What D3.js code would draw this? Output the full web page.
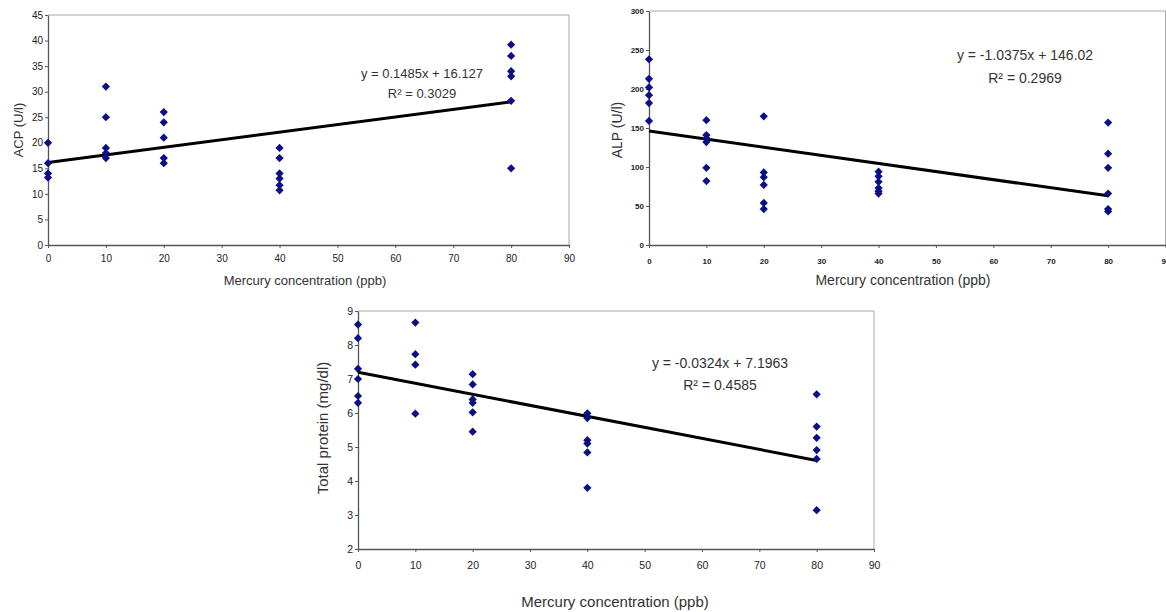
<!DOCTYPE html>
<html>
<head>
<meta charset="utf-8">
<script src="https://cdn.jsdelivr.net/npm/d3@7"></script>
<style>
  body { margin: 0; background: #fff; }
  svg text { font-family: Arial, "Liberation Sans", sans-serif; }
</style>
</head>
<body>
<div id="chart"></div>
<script>
// mercury dose groups (ppb)
const concentrations = [0, 10, 20, 40, 80];
const xTicks = [0, 10, 20, 30, 40, 50, 60, 70, 80, 90];

// ACP (U/l), one list per dose group
const acpValues = [
  [20, 16, 14, 13.2],
  [31, 25, 19, 18, 17],
  [26, 24, 21, 17, 16],
  [19, 17, 14, 13, 11.7, 10.7],
  [39.2, 37, 34, 33, 28.2, 15]
];
const acpTicks = [0, 5, 10, 15, 20, 25, 30, 35, 40, 45];
const acpFit = { slope: 0.1485, intercept: 16.127, r2: "0.3029" };

// ALP (U/l)
const alpValues = [
  [238, 213, 202, 192, 182, 159],
  [160, 141, 137, 132, 99, 82],
  [165, 93, 87, 77, 54, 46],
  [94, 88, 81, 73, 69, 66],
  [157, 117, 99, 66, 46, 43]
];
const alpTicks = [0, 50, 100, 150, 200, 250, 300];
const alpFit = { slope: -1.0375, intercept: 146.02, r2: "0.2969" };

// Total protein (mg/dl)
const proteinValues = [
  [8.6, 8.2, 7.3, 7.0, 6.5, 6.3],
  [8.66, 7.73, 7.42, 5.98],
  [7.14, 6.84, 6.4, 6.3, 6.02, 5.45],
  [5.99, 5.85, 5.2, 5.1, 4.84, 3.8],
  [6.55, 5.6, 5.27, 4.91, 4.65, 3.14]
];
const proteinTicks = [2, 3, 4, 5, 6, 7, 8, 9];
const proteinFit = { slope: -0.0324, intercept: 7.1963, r2: "0.4585" };

const svg = d3.select("#chart").append("svg")
  .attr("width", 1166)
  .attr("height", 612);

function fmtSigned(v) {
  return v < 0 ? "-" + Math.abs(v) : String(v);
}

function drawPanel(cfg) {
  const x = d3.scaleLinear().domain([0, 90]).range([cfg.left, cfg.right]);
  const y = d3.scaleLinear().domain(cfg.yDomain).range([cfg.bottom, cfg.top]);
  const g = svg.append("g");

  // light frame (top/right)
  g.append("path")
    .attr("d", `M${cfg.left},${cfg.top}H${cfg.right}V${cfg.bottom}`)
    .attr("fill", "none")
    .attr("stroke", "#a8a8a8")
    .attr("stroke-width", 1);

  const xAxis = g.append("g")
    .attr("transform", `translate(0,${cfg.bottom})`)
    .call(d3.axisBottom(x).tickValues(xTicks).tickFormat(d3.format("d"))
      .tickSize(3).tickSizeOuter(0).tickPadding(cfg.xPad));
  const yAxis = g.append("g")
    .attr("transform", `translate(${cfg.left},0)`)
    .call(d3.axisLeft(y).tickValues(cfg.yTicks).tickFormat(d3.format("d"))
      .tickSize(3).tickSizeOuter(0).tickPadding(2));

  [xAxis, yAxis].forEach(a => {
    a.select(".domain").attr("stroke", "#555").attr("stroke-width", 1.3);
    a.selectAll(".tick line").attr("stroke", "#555");
    a.selectAll("text")
      .attr("fill", "#222")
      .style("font-size", cfg.tickFont + "px")
      .style("font-weight", cfg.tickBold ? "bold" : "normal");
  });

  // trend line
  const fit = cfg.fit;
  g.append("line")
    .attr("x1", x(0)).attr("y1", y(fit.intercept))
    .attr("x2", x(80)).attr("y2", y(fit.intercept + fit.slope * 80))
    .attr("stroke", "#000")
    .attr("stroke-width", 3);

  // points
  const pts = [];
  concentrations.forEach((c, i) => cfg.values[i].forEach(v => pts.push({ c, v })));
  g.selectAll(".pt").data(pts).enter().append("path")
    .attr("class", "pt")
    .attr("d", d3.symbol().type(d3.symbolSquare).size(34))
    .attr("transform", d => `translate(${x(d.c)},${y(d.v)}) rotate(45)`)
    .attr("fill", "#0b0f86");

  // equation text
  g.append("text")
    .attr("x", cfg.eqX).attr("y", cfg.eqY)
    .attr("text-anchor", "middle")
    .attr("dominant-baseline", "central")
    .attr("fill", "#333")
    .style("font-size", cfg.eqFont + "px")
    .text(`y = ${fmtSigned(fit.slope)}x + ${fit.intercept}`);
  g.append("text")
    .attr("x", cfg.eqX).attr("y", cfg.eqY + cfg.eqGap)
    .attr("text-anchor", "middle")
    .attr("dominant-baseline", "central")
    .attr("fill", "#333")
    .style("font-size", cfg.eqFont + "px")
    .text(`R² = ${fit.r2}`);

  // axis labels
  g.append("text")
    .attr("transform", `translate(${cfg.yLabelX},${cfg.yLabelY}) rotate(-90)`)
    .attr("text-anchor", "middle")
    .attr("dominant-baseline", "central")
    .attr("fill", "#333")
    .style("font-size", cfg.labelFont + "px")
    .text(cfg.yLabel);
  g.append("text")
    .attr("x", cfg.xLabelX).attr("y", cfg.xLabelY)
    .attr("text-anchor", "middle")
    .attr("dominant-baseline", "central")
    .attr("fill", "#333")
    .style("font-size", cfg.labelFont + "px")
    .text("Mercury concentration (ppb)");
}

drawPanel({
  left: 48, right: 569, top: 15, bottom: 245,
  yDomain: [0, 45], yTicks: acpTicks, values: acpValues, fit: acpFit,
  tickFont: 10, tickBold: false, xPad: 7,
  eqX: 422, eqY: 73, eqGap: 20, eqFont: 13,
  yLabel: "ACP (U/l)", yLabelX: 18, yLabelY: 130,
  xLabelX: 305, xLabelY: 280, labelFont: 13
});

drawPanel({
  left: 649, right: 1165.5, top: 11, bottom: 245,
  yDomain: [0, 300], yTicks: alpTicks, values: alpValues, fit: alpFit,
  tickFont: 8, tickBold: true, xPad: 10,
  eqX: 1025, eqY: 55, eqGap: 23, eqFont: 14,
  yLabel: "ALP (U/l)", yLabelX: 617, yLabelY: 130,
  xLabelX: 903, xLabelY: 280, labelFont: 14
});

drawPanel({
  left: 358, right: 874, top: 311, bottom: 549,
  yDomain: [2, 9], yTicks: proteinTicks, values: proteinValues, fit: proteinFit,
  tickFont: 10.5, tickBold: false, xPad: 10,
  eqX: 720, eqY: 363, eqGap: 22, eqFont: 14,
  yLabel: "Total protein (mg/dl)", yLabelX: 322, yLabelY: 428,
  xLabelX: 615, xLabelY: 601, labelFont: 15
});
</script>
</body>
</html>
